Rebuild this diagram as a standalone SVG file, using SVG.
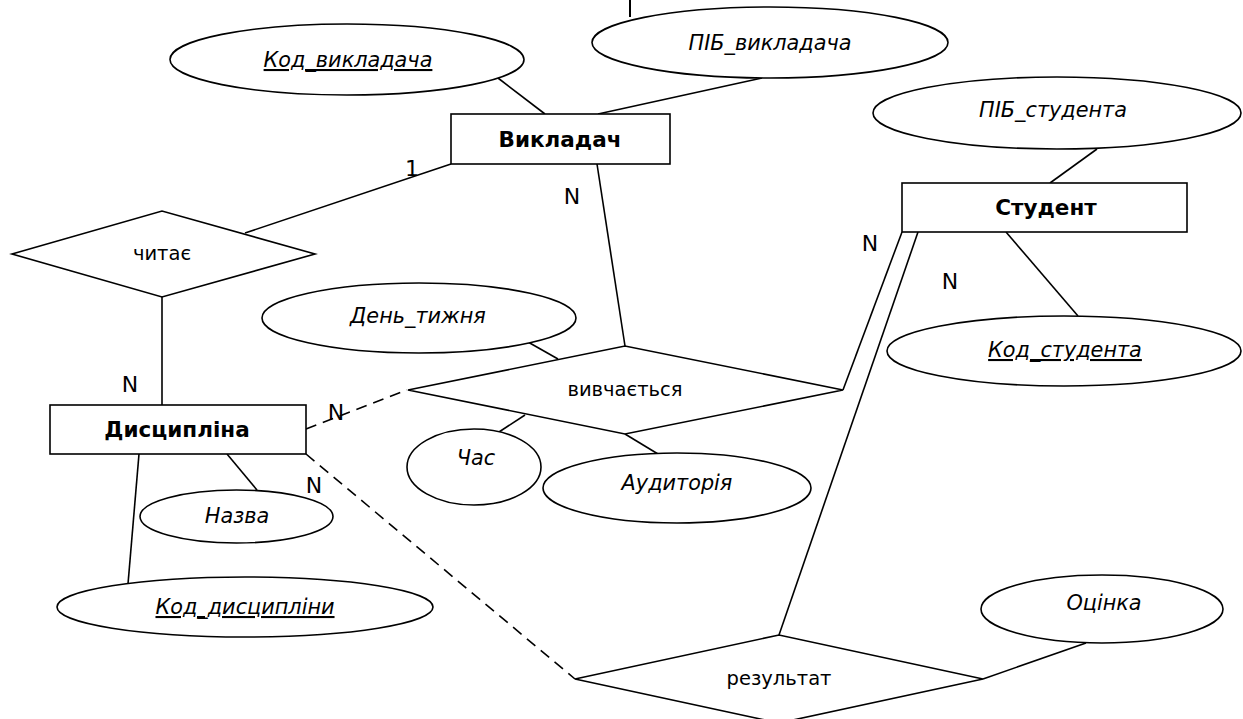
<svg xmlns="http://www.w3.org/2000/svg" width="1243" height="719" viewBox="0 0 1243 719">
<style>
.s{fill:#fff;stroke:#000;stroke-width:1.6}
.c line{stroke:#000;stroke-width:1.6}
.c .d{stroke-dasharray:11 7}
text{font-family:"DejaVu Sans","Verdana",sans-serif;fill:#000;text-anchor:middle}
.a{font-style:italic;font-size:20.8px}
.k{text-decoration:underline}
.e{font-weight:bold;font-size:21.5px}
.r{font-size:19.5px}
.n{font-size:22px}
</style>
<rect width="1243" height="719" fill="#fff"/>
<line x1="630" y1="0" x2="630" y2="17" stroke="#000" stroke-width="2"/>
<g class="c" id="connectors">
<line x1="498" y1="78" x2="545" y2="114"/>
<line x1="762" y1="78" x2="598" y2="114"/>
<line x1="451" y1="164" x2="245" y2="233"/>
<line x1="162" y1="297" x2="162" y2="405"/>
<line x1="597" y1="164" x2="625" y2="346"/>
<line x1="1097" y1="149" x2="1050" y2="183"/>
<line x1="1006" y1="232" x2="1078" y2="316"/>
<line x1="902" y1="232" x2="843" y2="390"/>
<line x1="918" y1="232" x2="779" y2="635"/>
<line x1="528" y1="342" x2="558" y2="359"/>
<line x1="499" y1="432" x2="525" y2="415"/>
<line x1="625" y1="434" x2="658" y2="454"/>
<line class="d" x1="306" y1="429" x2="407" y2="390"/>
<line class="d" x1="306" y1="454" x2="575" y2="679"/>
<line x1="227" y1="454" x2="257" y2="490"/>
<line x1="139" y1="454" x2="128" y2="584"/>
<line x1="983" y1="679" x2="1086" y2="643"/>
</g>
<g id="e-vykladach"><rect class="s" x="451" y="114" width="219" height="50"/><text class="e" x="560" y="147">Викладач</text></g>
<g id="e-student"><rect class="s" x="902" y="183" width="285" height="49"/><text class="e" x="1046" y="215">Студент</text></g>
<g id="e-dyscyplina"><rect class="s" x="50" y="405" width="256" height="49"/><text class="e" x="177" y="437">Дисципліна</text></g>
<g id="r-chytaie"><polygon class="s" points="12,254 162,211 315,254 162,297"/><text class="r" x="162" y="260">читає</text></g>
<g id="r-vyvchaietsia"><polygon class="s" points="408,390 625,346 843,390 625,434"/><text class="r" x="625" y="396">вивчається</text></g>
<g id="r-rezultat"><polygon class="s" points="575,679 779,635 983,679 779,723"/><text class="r" x="779" y="685">результат</text></g>
<g id="a-kod-vykl"><ellipse class="s" cx="347" cy="59.5" rx="177" ry="35.5"/><text class="a k" x="348" y="67">Код_викладача</text></g>
<g id="a-pib-vykl"><ellipse class="s" cx="770" cy="42.5" rx="178" ry="35.5"/><text class="a" x="770" y="50">ПІБ_викладача</text></g>
<g id="a-pib-stud"><ellipse class="s" cx="1057" cy="113" rx="184" ry="36"/><text class="a" x="1053" y="117">ПІБ_студента</text></g>
<g id="a-kod-stud"><ellipse class="s" cx="1064" cy="351" rx="177" ry="35"/><text class="a k" x="1065" y="357">Код_студента</text></g>
<g id="a-den"><ellipse class="s" cx="419" cy="318" rx="157" ry="35"/><text class="a" x="418" y="323">День_тижня</text></g>
<g id="a-chas"><ellipse class="s" cx="474" cy="467" rx="67" ry="38"/><text class="a" x="476" y="465">Час</text></g>
<g id="a-audytoriia"><ellipse class="s" cx="677" cy="488" rx="134" ry="35"/><text class="a" x="677" y="490">Аудиторія</text></g>
<g id="a-nazva"><ellipse class="s" cx="236.5" cy="516.5" rx="96.5" ry="26.5"/><text class="a" x="237" y="523">Назва</text></g>
<g id="a-kod-dysc"><ellipse class="s" cx="245" cy="607" rx="188" ry="30"/><text class="a k" x="245" y="614">Код_дисципліни</text></g>
<g id="a-otsinka"><ellipse class="s" cx="1102" cy="609" rx="121" ry="34"/><text class="a" x="1104" y="610">Оцінка</text></g>
<g id="labels">
<text class="n" x="412" y="176">1</text>
<text class="n" x="572" y="204">N</text>
<text class="n" x="870" y="251">N</text>
<text class="n" x="950" y="289">N</text>
<text class="n" x="130" y="392">N</text>
<text class="n" x="336" y="420">N</text>
<text class="n" x="314" y="493">N</text>
</g>
</svg>
